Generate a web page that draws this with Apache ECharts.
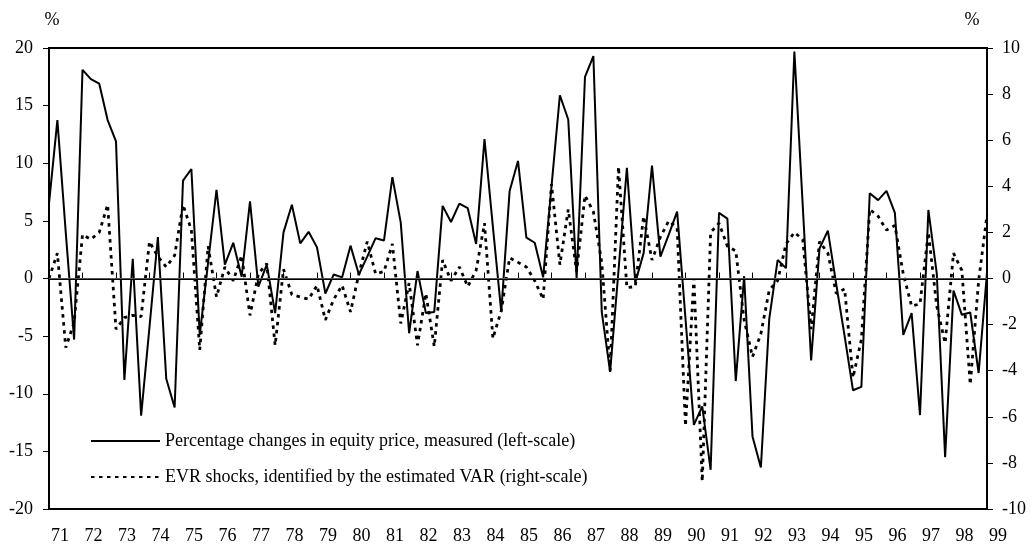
<!DOCTYPE html>
<html>
<head>
<meta charset="utf-8">
<script src="https://cdn.jsdelivr.net/npm/echarts@6/dist/echarts.min.js"></script>
<style>
html,body{margin:0;padding:0;background:#fff;}
#main{width:1034px;height:550px;}
</style>
</head>
<body>
<div id="main"></div>
<script>
// tick labels of the x axis (one per year)
var years = ['71','72','73','74','75','76','77','78','79','80','81','82','83','84','85',
	'86','87','88','89','90','91','92','93','94','95','96','97','98','99'];

// quarterly % change in equity price, measured (left scale)
var equityChange = [
	6.5, 13.75, 4.0, -5.3, 18.1, 17.3, 16.9, 13.75, 11.9, -8.8,
	1.7, -11.9, -4.2, 3.6, -8.7, -11.2, 8.5, 9.5, -4.9, 1.4,
	7.7, 1.2, 3.1, 0.15, 6.7, -0.7, 1.2, -3.0, 4.0, 6.4,
	3.05, 4.05, 2.7, -1.3, 0.35, 0.1, 2.85, 0.35, 1.9, 3.5,
	3.3, 8.8, 4.85, -4.75, 0.65, -3.0, -2.9, 6.3, 4.9, 6.5,
	6.1, 3.0, 12.1, 4.5, -2.9, 7.6, 10.2, 3.55, 3.1, 0.1,
	8.0, 15.9, 13.8, 0, 17.5, 19.3, -2.9, -8.1, 0.7, 9.6,
	-0.35, 2.2, 9.8, 1.9, 3.8, 5.8, -3.5, -12.7, -11.1, -16.6,
	5.7, 5.2, -8.9, 0.2, -13.7, -16.4, -3.5, 1.6, 0.9, 19.7,
	6.3, -7.1, 2.6, 4.15, -0.5, -5.0, -9.7, -9.4, 7.4, 6.8,
	7.6, 5.7, -4.9, -3.0, -11.85, 5.95, 0.45, -15.5, -1.05, -3.15,
	-2.95, -8.2, 0.5
];

// EVR shocks identified by the estimated VAR (right scale)
var evrShocks = [
	0, 1.1, -3.0, -1.9, 1.9, 1.7, 2.0, 3.2, -2.2, -1.7,
	-1.6, -1.65, 1.6, 0.95, 0.5, 1.0, 3.2, 2.1, -3.1, 1.4,
	-0.8, 0.5, -0.1, 1.0, -1.6, 0.2, 0.65, -2.9, 0.4, -0.7,
	-0.8, -0.9, -0.3, -1.8, -0.9, -0.3, -1.45, 0.2, 1.6, 0.2,
	0.3, 1.5, -1.95, -0.2, -2.9, -0.65, -2.95, 0.8, -0.1, 0.5,
	-0.35, 0.35, 2.4, -2.6, -1.4, 0.9, 0.7, 0.5, -0.1, -0.9,
	4.1, 0.6, 3.0, 0.3, 3.6, 2.9, 0.7, -4.0, 4.85, -0.4,
	-0.35, 2.7, 0.8, 1.8, 2.5, 2.2, -6.4, 0, -8.8, 2.0,
	2.4, 1.4, 1.2, -1.8, -3.4, -2.4, -0.5, -0.1, 1.5, 2.0,
	1.7, -2.2, 1.6, 1.1, -0.65, -0.45, -4.3, -2.65, 3.0, 2.7,
	2.1, 2.3, 0.2, -1.2, -1.1, 2.0, -1.2, -2.8, 1.1, 0.35,
	-4.6, -0.1, 2.75
];

var seriesNames = [
	'Percentage changes in equity price, measured (left-scale)',
	'EVR shocks, identified by the estimated VAR (right-scale)'
];

// quarters 71Q1 .. 99Q1
var quarters = [];
for (var y = 0; y < years.length; y++) {
	for (var q = 1; q <= 4; q++) {
		quarters.push(years[y] + 'Q' + q);
	}
}
quarters = quarters.slice(0, equityChange.length);

var font = 'Liberation Serif, Times New Roman, serif';

var myChart = echarts.init(document.getElementById('main'));
var option = {
	animation: false,
	backgroundColor: '#fff',
	textStyle: {fontFamily: font, color: '#000'},
	grid: {
		left: 49, right: 47, top: 48, bottom: 41,
		show: true, borderColor: '#000', borderWidth: 2
	},
	legend: {
		orient: 'vertical',
		left: 90,
		top: 432,
		padding: 0,
		itemWidth: 69,
		itemHeight: 14,
		itemGap: 18,
		itemStyle: {opacity: 0},
		data: seriesNames,
		textStyle: {fontFamily: font, fontSize: 18, color: '#000'}
	},
	xAxis: {
		type: 'category',
		data: quarters,
		boundaryGap: false,
		axisLine: {lineStyle: {color: '#000', width: 2}},
		axisTick: {show: true, inside: true, interval: 3, length: 6, lineStyle: {color: '#000', width: 1}},
		axisLabel: {
			interval: 3,
			margin: 18,
			padding: [0, 0, 0, 22],
			fontFamily: font, fontSize: 18, color: '#000',
			formatter: function (v) { return v.slice(0, 2); }
		},
		splitLine: {show: false}
	},
	yAxis: [{
		type: 'value',
		min: -20, max: 20, interval: 5,
		name: '%',
		nameLocation: 'end',
		nameGap: 19,
		nameTextStyle: {fontFamily: font, fontSize: 18, color: '#000', padding: [0, 0, 0, 6]},
		axisLine: {show: true, lineStyle: {color: '#000', width: 2}},
		axisTick: {show: true, length: 6, lineStyle: {color: '#000', width: 1}},
		axisLabel: {margin: 16, fontFamily: font, fontSize: 18, color: '#000'},
		splitLine: {show: false}
	}, {
		type: 'value',
		position: 'right',
		min: -10, max: 10, interval: 2,
		name: '%',
		nameLocation: 'end',
		nameGap: 19,
		nameTextStyle: {fontFamily: font, fontSize: 18, color: '#000', padding: [0, 30, 0, 0]},
		axisLine: {show: true, lineStyle: {color: '#000', width: 2}},
		axisTick: {show: true, length: 6, lineStyle: {color: '#000', width: 1}},
		axisLabel: {margin: 15, fontFamily: font, fontSize: 18, color: '#000'},
		splitLine: {show: false}
	}],
	series: [{
		name: seriesNames[0],
		type: 'line',
		yAxisIndex: 0,
		data: equityChange,
		symbol: 'none',
		lineStyle: {color: '#000', width: 2},
		itemStyle: {color: '#000'},
		markLine: {
			silent: true,
			symbol: 'none',
			label: {show: false},
			lineStyle: {color: '#555', width: 1, type: 'solid'},
			data: [{yAxis: 0}]
		}
	}, {
		name: seriesNames[1],
		type: 'line',
		yAxisIndex: 1,
		data: evrShocks,
		symbol: 'none',
		lineStyle: {color: '#000', width: 2.8, type: [3.5, 4.5]},
		itemStyle: {color: '#000'}
	}]
};
myChart.setOption(option);
</script>
</body>
</html>
